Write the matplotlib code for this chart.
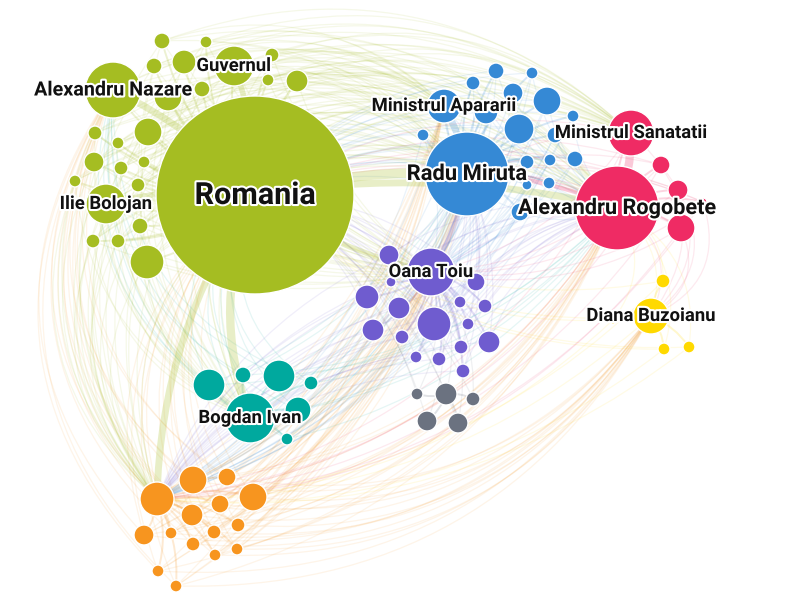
import numpy as np
import matplotlib
matplotlib.use("Agg")
import matplotlib.pyplot as plt
from matplotlib.patches import Circle, PathPatch
from matplotlib.path import Path
import matplotlib.patheffects as pe

# nodes per community: (x, y, size, label); first node is the community hub
green = [(255, 195, 99, "Romania"), (113, 90, 28, "Alexandru Nazare"),
         (234, 66, 20, "Guvernul"), (106, 204, 20, "Ilie Bolojan"),
         (162, 41, 8, ""), (206, 42, 6, ""), (184, 62, 12, ""), (154, 66, 8, ""),
         (272, 55, 7, ""), (268, 80, 6, ""), (297, 81, 11, ""), (202, 89, 8, ""),
         (168, 97, 14, ""), (148, 132, 14, ""), (95, 133, 7, ""), (118, 143, 6, ""),
         (94, 162, 10, ""), (121, 168, 7, ""), (144, 162, 6, ""), (75, 181, 6, ""),
         (138, 185, 7, ""), (140, 226, 8, ""), (93, 241, 7, ""), (118, 241, 7, ""),
         (147, 262, 17, "")]
blue = [(467, 174, 42, "Radu Miruta"), (444, 106, 17, "Ministrul Apararii"),
        (496, 71, 8, ""), (532, 73, 6, ""), (473, 83, 7, ""), (513, 93, 10, ""),
        (547, 101, 14, ""), (486, 112, 12, ""), (519, 129, 15, ""), (573, 116, 6, ""),
        (423, 135, 6, ""), (555, 135, 8, ""), (527, 162, 7, ""), (550, 160, 6, ""),
        (575, 159, 8, ""), (527, 185, 5, ""), (549, 183, 6, ""), (520, 212, 9, "")]
red = [(617, 208, 42, "Alexandru Rogobete"), (631, 133, 23, "Ministrul Sanatatii"),
       (661, 165, 9, ""), (678, 190, 10, ""), (681, 228, 14, ""), (703, 202, 4, "")]
purple = [(431, 272, 24, "Oana Toiu"), (389, 255, 10, ""), (476, 282, 9, ""),
          (391, 282, 5, ""), (367, 297, 12, ""), (399, 308, 11, ""), (460, 302, 6, ""),
          (485, 306, 7, ""), (434, 324, 17, ""), (468, 324, 6, ""), (373, 330, 11, ""),
          (402, 337, 7, ""), (461, 347, 7, ""), (489, 342, 11, ""), (416, 357, 6, ""),
          (439, 359, 7, ""), (463, 371, 7, "")]
gray = [(446, 394, 11, ""), (417, 394, 6, ""), (473, 399, 7, ""), (427, 421, 10, ""),
        (458, 423, 10, "")]
teal = [(250, 418, 25, "Bogdan Ivan"), (209, 385, 16, ""), (243, 375, 8, ""),
        (279, 376, 16, ""), (311, 383, 7, ""), (298, 410, 13, ""), (287, 439, 6, "")]
orange = [(157, 499, 17, ""), (193, 480, 14, ""), (227, 477, 9, ""), (253, 497, 14, ""),
          (220, 504, 9, ""), (192, 515, 11, ""), (144, 535, 10, ""), (171, 533, 6, ""),
          (214, 532, 7, ""), (238, 525, 7, ""), (193, 544, 7, ""), (215, 555, 6, ""),
          (237, 549, 6, ""), (158, 571, 6, ""), (176, 586, 6, "")]
yellow = [(651, 316, 18, "Diana Buzoianu"), (663, 281, 7, ""), (664, 349, 6, ""),
          (689, 347, 6, ""), (613, 320, 4, "")]

clusters = {"green": green, "blue": blue, "red": red, "purple": purple,
            "gray": gray, "teal": teal, "orange": orange, "yellow": yellow}
colors = {"green": "#a5bd22", "blue": "#3589d5", "red": "#ef2b64",
          "purple": "#6f5ccf", "gray": "#6b7280", "teal": "#00a99e",
          "orange": "#f7951f", "yellow": "#ffd900"}

label_sizes = {"Romania": 22, "Radu Miruta": 15.8, "Alexandru Rogobete": 15.6,
               "Alexandru Nazare": 14.2}

# links from every member of a community to a hub: (community, hub, bend)
bridges = [("orange", "Romania", -0.35), ("orange", "Radu Miruta", 0.2),
           ("orange", "Oana Toiu", 0.15), ("orange", "Alexandru Rogobete", 0.25),
           ("orange", "Diana Buzoianu", 0.3), ("orange", "Alexandru Nazare", -0.4),
           ("orange", "Ministrul Apararii", 0.15),
           ("teal", "Romania", -0.4), ("teal", "Radu Miruta", 0.15),
           ("teal", "Alexandru Rogobete", 0.2), ("teal", "Alexandru Nazare", -0.35),
           ("green", "Radu Miruta", -0.25), ("green", "Alexandru Rogobete", -0.3),
           ("green", "Ministrul Apararii", -0.3), ("green", "Ministrul Sanatatii", -0.3),
           ("green", "Bogdan Ivan", 0.3), ("green", "orange", 0.35),
           ("green", "Oana Toiu", 0.15),
           ("purple", "Romania", 0.2), ("purple", "Radu Miruta", 0.15),
           ("purple", "Alexandru Rogobete", -0.2), ("purple", "orange", 0.2),
           ("blue", "Romania", 0.2), ("blue", "Alexandru Rogobete", 0.2),
           ("blue", "orange", -0.2), ("blue", "Oana Toiu", -0.15),
           ("red", "Romania", 0.2), ("red", "Radu Miruta", 0.15),
           ("red", "Diana Buzoianu", -0.45), ("red", "orange", -0.25),
           ("red", "Oana Toiu", -0.2),
           ("yellow", "Alexandru Rogobete", 0.35), ("yellow", "Romania", -0.2),
           ("yellow", "orange", -0.2),
           ("gray", "Oana Toiu", 0.2), ("gray", "Romania", 0.2)]

# heavy links between hubs: (source, target, width, bend)
strong = [("Romania", "Radu Miruta", 7, -0.08), ("Romania", "Alexandru Rogobete", 5, -0.1),
          ("Romania", "Bogdan Ivan", 6, 0.2), ("Romania", "orange", 5, 0.15),
          ("Romania", "Oana Toiu", 4, 0.1), ("Romania", "Alexandru Nazare", 5, 0.1),
          ("Romania", "Guvernul", 4, 0.1), ("Romania", "Ilie Bolojan", 4, 0.1),
          ("Radu Miruta", "Ministrul Apararii", 5, 0.1),
          ("Alexandru Rogobete", "Ministrul Sanatatii", 6, 0.1),
          ("Alexandru Rogobete", "Radu Miruta", 3, 0.1),
          ("Oana Toiu", "Radu Miruta", 3, 0.1)]


def find(ref):
    if ref in clusters:
        n = clusters[ref][0]
        return (n[0], n[1]), ref
    for name, nodes in clusters.items():
        for n in nodes:
            if n[3] == ref:
                return (n[0], n[1]), name
    raise KeyError(ref)


fig = plt.figure(figsize=(7.98, 6.08), dpi=100)
ax = fig.add_axes([0, 0, 1, 1])
ax.set_xlim(0, 798)
ax.set_ylim(608, 0)
ax.set_aspect("equal")
ax.axis("off")


def arc(p, q, bend, color, lw, alpha):
    p = np.array(p, float)
    q = np.array(q, float)
    d = q - p
    c = (p + q) / 2 + bend * np.array([-d[1], d[0]])
    path = Path([p, c, q], [Path.MOVETO, Path.CURVE3, Path.CURVE3])
    ax.add_patch(PathPatch(path, fc="none", ec=color, lw=lw, alpha=alpha, zorder=1))


# edges inside each community
for name, nodes in clusters.items():
    hub = nodes[0]
    for n in nodes[1:]:
        arc((n[0], n[1]), (hub[0], hub[1]), 0.15, colors[name], 1.4, 0.2)

for src, dst, bend in bridges:
    q, _ = find(dst)
    for n in clusters[src]:
        arc((n[0], n[1]), q, bend, colors[src], 0.9, 0.1)

for a, b, w, bend in strong:
    p, ca = find(a)
    q, _ = find(b)
    arc(p, q, bend, colors[ca], w, 0.25)

for name, nodes in clusters.items():
    for x, y, r, lab in nodes:
        ax.add_patch(Circle((x, y), r, fc=colors[name], ec="white", lw=1, zorder=2))

for name, nodes in clusters.items():
    for x, y, r, lab in nodes:
        if lab:
            ax.text(x, y, lab, ha="center", va="center", fontsize=label_sizes.get(lab, 13.3),
                    fontfamily="Roboto", fontweight="bold", color="#111111", zorder=3,
                    path_effects=[pe.withStroke(linewidth=3, foreground="white")])

plt.savefig("out.png", dpi=100)
